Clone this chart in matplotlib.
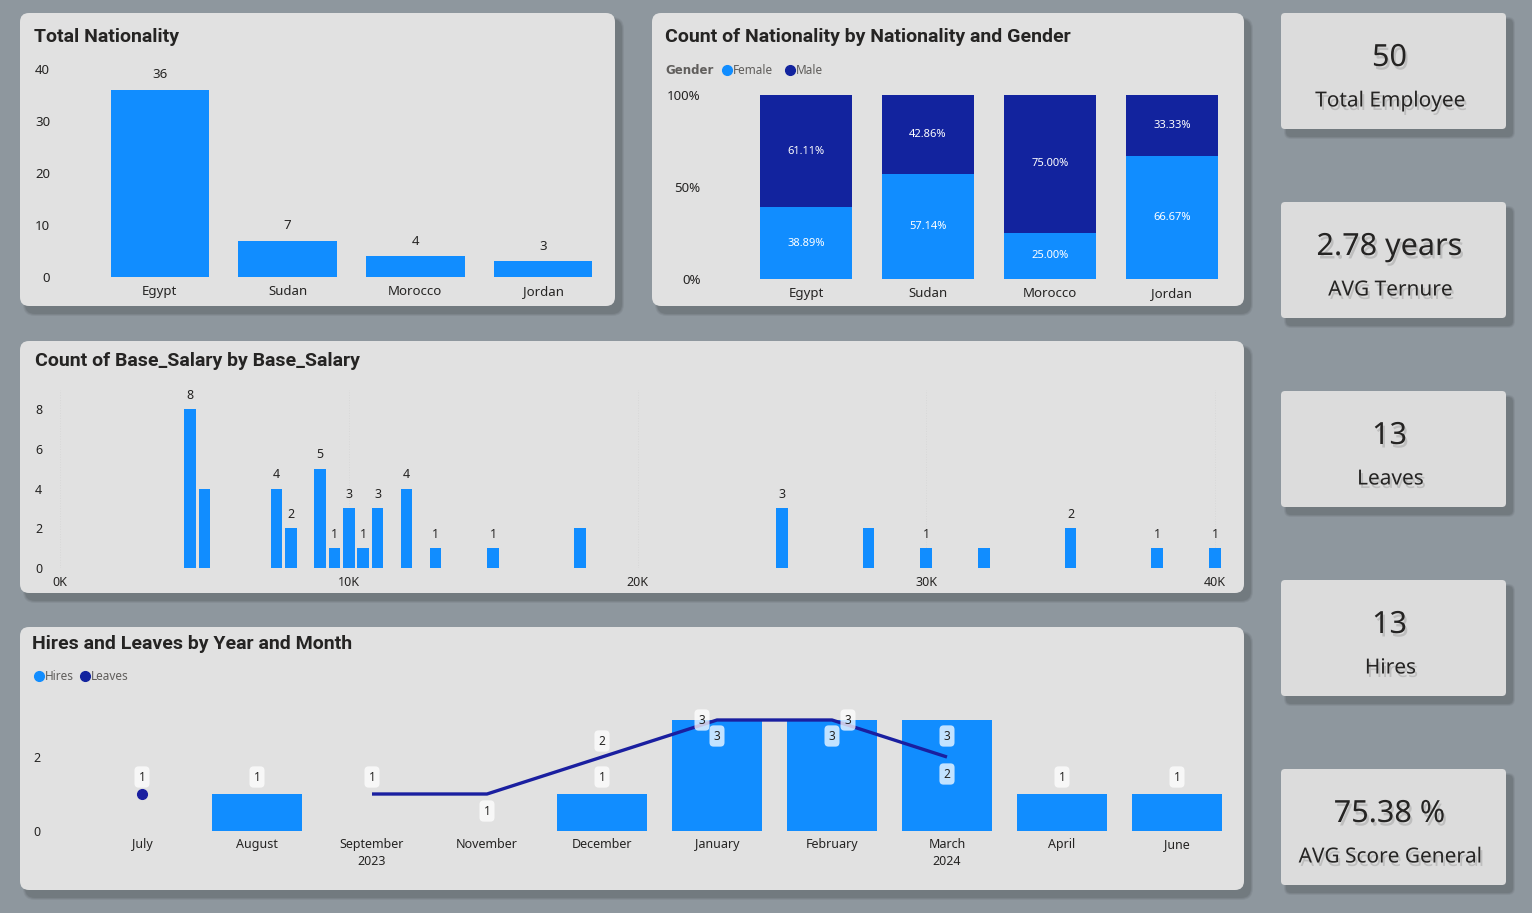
import numpy as np
import matplotlib
matplotlib.use('Agg')
import matplotlib.pyplot as plt
from matplotlib.patches import FancyBboxPatch
import matplotlib.patheffects as pe

W, H = 1532, 913

# ---- data ----
nationalities = ['Egypt', 'Sudan', 'Morocco', 'Jordan']
nationality_counts = [36, 7, 4, 3]
female_counts = [14, 4, 1, 2]
male_counts = [22, 3, 3, 1]

salary_values = [4500, 5000, 7500, 8000, 9000, 9500, 10000, 10500, 11000, 12000,
                 13000, 15000, 18000, 25000, 28000, 30000, 32000, 35000, 38000, 40000]
salary_counts = [8, 4, 4, 2, 5, 1, 3, 1, 3, 4, 1, 1, 2, 3, 2, 1, 1, 2, 1, 1]
salary_hidden_labels = [5000, 18000, 28000, 32000]

months = ['July', 'August', 'September', 'November', 'December',
          'January', 'February', 'March', 'April', 'June']
month_years = [2023, 2023, 2023, 2023, 2023, 2024, 2024, 2024, 2024, 2024]
hires = [np.nan, 1, np.nan, np.nan, 1, 3, 3, 3, 1, 1]
leaves = [1, np.nan, 1, 1, 2, 3, 3, 2, np.nan, np.nan]

kpi_values = ['50', '2.78 years', '13', '13', '75.38 %']
kpi_labels = ['Total Employee', 'AVG Ternure', 'Leaves', 'Hires', 'AVG Score General']

# ---- style ----
BG = '#8e979e'
PANEL = '#e1e1e1'
CARD = '#dcdcdc'
BLUE = '#118dff'
NAVY = '#12239e'
TXT = '#252423'
GREY = '#605e5c'
TITLE_FONT = ['Liberation Sans Narrow', 'Roboto', 'DejaVu Sans']
plt.rcParams['font.family'] = ['Noto Sans', 'DejaVu Sans']

fig = plt.figure(figsize=(W / 100, H / 100), dpi=100)
fig.patch.set_facecolor(BG)
bg = fig.add_axes([0, 0, 1, 1])
bg.set_xlim(0, W)
bg.set_ylim(H, 0)
bg.axis('off')


def panel(x0, y0, x1, y1, fc=PANEL, r=9):
    for i, a in enumerate([0.2, 0.3, 0.45]):
        d = 3 - i
        sh = FancyBboxPatch((x0 + 6 - d, y0 + 7 - d), x1 - x0 + 2 * d, y1 - y0 + 2 * d,
                            boxstyle=f'round,pad=0,rounding_size={r + d}',
                            fc='#666e73', ec='none', alpha=a)
        bg.add_patch(sh)
    bg.add_patch(FancyBboxPatch((x0, y0), x1 - x0, y1 - y0,
                                boxstyle=f'round,pad=0,rounding_size={r}',
                                fc=fc, ec='none'))


def px_axes(x0, y0, x1, y1):
    ax = fig.add_axes([x0 / W, 1 - y1 / H, (x1 - x0) / W, (y1 - y0) / H])
    ax.set_facecolor('none')
    for s in ax.spines.values():
        s.set_visible(False)
    ax.tick_params(length=0, labelsize=9.5, colors=TXT)
    return ax


def title(x, y, s):
    bg.text(x, y, s, fontsize=14, fontweight='bold', color=TXT,
            family=TITLE_FONT, va='center', ha='left')


def legend(x, y, items, head=None):
    if head:
        bg.text(x, y, head, fontsize=8.5, fontweight='bold', color=GREY,
                family=['DejaVu Sans'], va='center')
        x += 62
    for lab, col, w in items:
        bg.plot(x, y, 'o', ms=7, color=col)
        bg.text(x + 6, y, lab, fontsize=8.5, color=GREY, va='center')
        x += w


# ---- panels ----
panel(20, 13, 615, 306)
panel(652, 13, 1244, 306)
panel(20, 341, 1244, 593)
panel(20, 627, 1244, 890)

# ---- Total Nationality ----
title(34, 37, 'Total Nationality')
ax1 = px_axes(96, 69, 607, 277)
x = np.arange(len(nationalities))
ax1.bar(x, nationality_counts, width=0.77, color=BLUE)
ax1.set_xlim(-0.5, len(nationalities) - 0.5)
ax1.set_ylim(0, 40)
ax1.set_yticks([0, 10, 20, 30, 40])
ax1.tick_params(axis='y', pad=33)
ax1.tick_params(axis='x', pad=6)
ax1.set_xticks(x, nationalities)
for xi, v in zip(x, nationality_counts):
    ax1.annotate(str(v), (xi, v), xytext=(0, 15), textcoords='offset pixels',
                 ha='center', va='center', fontsize=9.5, color=TXT)

# ---- Nationality by Gender ----
title(665, 37, 'Count of Nationality by Nationality and Gender')
legend(665, 70, [('Female', BLUE, 63), ('Male', NAVY, 60)], head='Gender')
ax2 = px_axes(745, 95, 1233, 279)
tot = np.array(female_counts) + np.array(male_counts)
fpct = np.array(female_counts) / tot * 100
mpct = np.array(male_counts) / tot * 100
ax2.bar(x, fpct, width=0.76, color=BLUE)
ax2.bar(x, mpct, bottom=fpct, width=0.76, color=NAVY)
ax2.set_xlim(-0.5, len(nationalities) - 0.5)
ax2.set_ylim(0, 100)
ax2.set_yticks([0, 50, 100], ['0%', '50%', '100%'])
ax2.tick_params(axis='y', pad=32)
ax2.tick_params(axis='x', pad=6)
ax2.set_xticks(x, nationalities)
for xi, f, m in zip(x, fpct, mpct):
    ax2.text(xi, f / 2, f'{f:.2f}%', ha='center', va='center', fontsize=8, color='white')
    ax2.text(xi, f + m / 2, f'{m:.2f}%', ha='center', va='center', fontsize=8, color='white')

# ---- Base salary ----
title(35, 361, 'Count of Base_Salary by Base_Salary')
ax3 = px_axes(45, 390, 1230, 568)
ax3.bar(salary_values, salary_counts, width=400, color=BLUE)
ax3.set_xlim(-520, 40520)
ax3.set_ylim(0, 8.96)
ax3.set_yticks([0, 2, 4, 6, 8])
ax3.set_xticks([0, 10000, 20000, 30000, 40000], ['0K', '10K', '20K', '30K', '40K'])
ax3.tick_params(axis='y', pad=2, labelsize=9)
ax3.tick_params(axis='x', pad=6, labelsize=9)
ax3.grid(axis='x', color='#d8d8d8', linestyle=':', linewidth=0.7)
ax3.set_axisbelow(True)
for sv, c in zip(salary_values, salary_counts):
    if sv in salary_hidden_labels:
        continue
    ax3.annotate(str(c), (sv, c), xytext=(0, 14), textcoords='offset pixels',
                 ha='center', va='center', fontsize=9, color=TXT)

# ---- Hires and Leaves ----
title(32, 644, 'Hires and Leaves by Year and Month')
legend(39, 676, [('Hires', BLUE, 46), ('Leaves', NAVY, 60)])
ax4 = px_axes(84.5, 690, 1234.5, 831)
xm = np.arange(len(months))
ax4.bar(xm, hires, width=0.78, color=BLUE)
ax4.plot(xm, leaves, color='#1a1fa0', lw=2.4, solid_capstyle='butt')
# isolated points of the leaves line are shown as dots
lv = np.array(leaves)
for i in range(len(lv)):
    prev_nan = i == 0 or np.isnan(lv[i - 1])
    next_nan = i == len(lv) - 1 or np.isnan(lv[i + 1])
    if not np.isnan(lv[i]) and prev_nan and next_nan:
        ax4.plot(xm[i], lv[i], 'o', ms=7, color='#1a1fa0')
ax4.set_xlim(-0.5, len(months) - 0.5)
ax4.set_ylim(0, 141 / 37)
ax4.set_yticks([0, 2])
ax4.tick_params(axis='y', pad=32, labelsize=9)
ax4.tick_params(axis='x', pad=5, labelsize=9)
ax4.set_xticks(xm, months)
for yr in sorted(set(month_years)):
    pos = [p for p, y in zip(xm, month_years) if y == yr]
    ax4.annotate(str(yr), (np.mean(pos), 0), xycoords=('data', 'axes fraction'),
                 xytext=(0, -30), textcoords='offset pixels',
                 ha='center', va='center', fontsize=9, color=TXT)

box = dict(boxstyle='round,pad=0.35,rounding_size=0.35', fc='white', ec='none', alpha=0.75)
for xi, v in zip(xm, hires):
    if np.isnan(v):
        continue
    dy = -16 if v >= 3 else 17
    ax4.annotate(f'{v:.0f}', (xi, v), xytext=(0, dy), textcoords='offset pixels',
                 ha='center', va='center', fontsize=8.5, color=TXT, bbox=box)
leave_offsets = [(0, 17), None, (0, 17), (0, -17), (0, 16), (-15, 0), (16, 0), (0, -17)]
for xi, v, off in zip(xm, leaves, leave_offsets + [None] * 2):
    if np.isnan(v) or off is None:
        continue
    ax4.annotate(f'{v:.0f}', (xi, v), xytext=off, textcoords='offset pixels',
                 ha='center', va='center', fontsize=8.5, color=TXT, bbox=box)

# ---- KPI cards ----
card_tops = [13, 202, 391, 580, 769]
shadow = [pe.withSimplePatchShadow(offset=(1.5, -2.5), shadow_rgbFace='#555555', alpha=0.22)]
for top, val, lab in zip(card_tops, kpi_values, kpi_labels):
    panel(1281, top, 1506, top + 116, fc=CARD, r=4)
    cx = (1281 + 1506) / 2
    bg.text(cx - 4, top + 45, val, fontsize=22, color=TXT, ha='center', va='center',
            path_effects=shadow)
    bg.text(cx - 3, top + 88, lab, fontsize=15, color=TXT, ha='center', va='center',
            path_effects=shadow)

fig.savefig('out.png', dpi=100, facecolor=fig.get_facecolor())
